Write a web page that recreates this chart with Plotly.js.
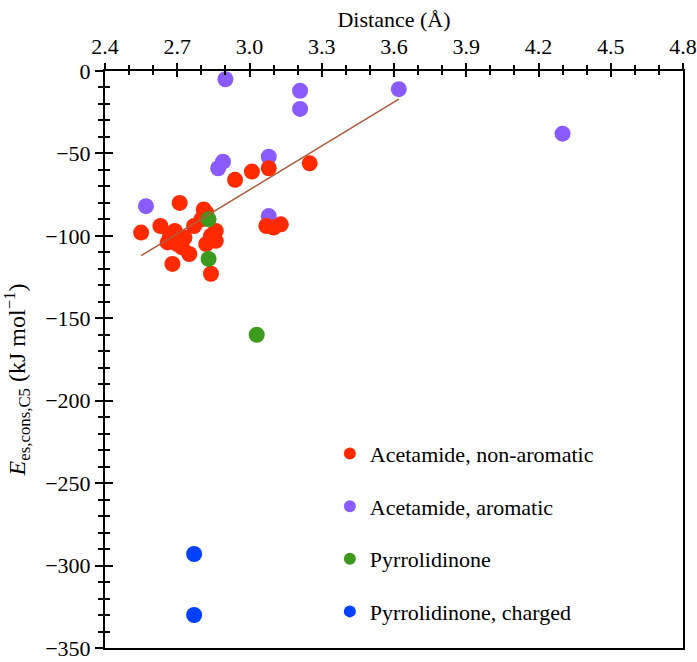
<!DOCTYPE html>
<html>
<head>
<meta charset="utf-8">
<script src="https://cdn.plot.ly/plotly-3.0.1.min.js"></script>
<style>html,body{margin:0;padding:0;background:#fff;}#chart{width:697px;height:662px;}</style>
</head>
<body>
<div id="chart"></div>
<script>
// Acetamide, non-aromatic
const nonAromX = [2.94, 3.01, 3.08, 3.25, 3.07, 3.10, 3.13, 2.71, 2.81, 2.55, 2.63, 2.67, 2.70, 2.75, 2.68, 2.77, 2.80, 2.84, 2.86, 2.82, 2.86, 2.84, 2.66, 2.72, 2.82, 2.73, 2.69];
const nonAromY = [-66, -61, -59, -56, -94, -95, -93, -80, -84, -98, -94, -100, -105, -111, -117, -94, -90, -100, -97, -105, -103, -123, -104, -107, -86, -101, -97];
// Acetamide, aromatic
const aromX = [2.90, 3.21, 3.21, 3.62, 4.30, 3.08, 2.89, 2.87, 2.57, 3.08];
const aromY = [-5, -12, -23, -11, -38, -52, -55, -59, -82, -88];
// Pyrrolidinone
const pyrX = [2.83, 2.83, 3.03];
const pyrY = [-90, -114, -160];
// Pyrrolidinone, charged
const pyrChX = [2.77, 2.77];
const pyrChY = [-293, -330];
// Linear fit endpoints
const fitX = [2.55, 3.62];
const fitY = [-112, -17];

const xTicks = [2.4, 2.7, 3.0, 3.3, 3.6, 3.9, 4.2, 4.5, 4.8];
const yTicks = [0, -50, -100, -150, -200, -250, -300, -350];

const serif = '"Liberation Serif", "Times New Roman", serif';
const msize = 16;
const fs = 22;

const traces = [
  {x: aromX, y: aromY, mode: 'markers', type: 'scatter', name: 'Acetamide, aromatic',
   legendgroup: 'g2', legendrank: 2, marker: {color: '#8a5cff', size: msize}},
  {x: nonAromX, y: nonAromY, mode: 'markers', type: 'scatter', name: 'Acetamide, non-aromatic',
   legendgroup: 'g1', legendrank: 1, marker: {color: '#ff2a00', size: msize}},
  {x: pyrX, y: pyrY, mode: 'markers', type: 'scatter', name: 'Pyrrolidinone',
   legendgroup: 'g3', legendrank: 3, marker: {color: '#3c9a1c', size: msize}},
  {x: pyrChX, y: pyrChY, mode: 'markers', type: 'scatter', name: 'Pyrrolidinone, charged',
   legendgroup: 'g4', legendrank: 4, marker: {color: '#0040ff', size: msize}},
  {x: fitX, y: fitY, mode: 'lines', type: 'scatter', showlegend: false,
   line: {color: '#b05a3c', width: 1.5}},
  {x: [], y: [], xaxis: 'x2', yaxis: 'y2', type: 'scatter', mode: 'markers', showlegend: false}
];

const layout = {
  width: 697, height: 662,
  margin: {l: 105, r: 14, t: 71, b: 14},
  paper_bgcolor: '#fff', plot_bgcolor: '#fff',
  font: {family: serif, size: fs, color: '#000'},
  showlegend: true,
  legend: {x: 0.389, y: 0.373, xanchor: 'left', yanchor: 'top',
           traceorder: 'grouped', tracegroupgap: 21, itemsizing: 'constant',
           font: {family: serif, size: fs, color: '#000'}, bgcolor: 'rgba(0,0,0,0)'},
  xaxis: {
    side: 'top', range: [2.4, 4.8], tickvals: xTicks, tickformat: '.1f',
    ticks: 'outside', ticklen: 6, tickwidth: 2, tickcolor: '#000',
    minor: {dtick: 0.1, tick0: 2.4, ticks: 'outside', ticklen: 4, tickwidth: 2, tickcolor: '#000', showgrid: false},
    showline: true, linewidth: 2, linecolor: '#000', mirror: true,
    showgrid: false, zeroline: false,
    tickfont: {family: serif, size: fs},
    title: {text: 'Distance (Å)', font: {family: serif, size: fs}, standoff: 1}
  },
  yaxis: {
    range: [-350, 0], tickvals: yTicks, ticklabeloverflow: 'allow',
    ticks: 'outside', ticklen: 8, tickwidth: 2, tickcolor: '#000',
    minor: {dtick: 10, tick0: 0, ticks: 'outside', ticklen: 5, tickwidth: 2, tickcolor: '#000', showgrid: false},
    showline: true, linewidth: 2, linecolor: '#000', mirror: true,
    showgrid: false, zeroline: false,
    tickfont: {family: serif, size: fs}
  },
  xaxis2: {
    overlaying: 'x', anchor: 'y', side: 'top', range: [2.4, 4.8], tickvals: xTicks,
    ticks: 'inside', ticklen: 6, tickwidth: 2, tickcolor: '#000', showticklabels: false,
    minor: {dtick: 0.1, tick0: 2.4, ticks: 'inside', ticklen: 4, tickwidth: 2, tickcolor: '#000', showgrid: false},
    showline: false, showgrid: false, zeroline: false
  },
  yaxis2: {
    overlaying: 'y', anchor: 'x', side: 'left', range: [-350, 0], tickvals: yTicks,
    ticks: 'inside', ticklen: 8, tickwidth: 2, tickcolor: '#000', showticklabels: false,
    minor: {dtick: 10, tick0: 0, ticks: 'inside', ticklen: 5, tickwidth: 2, tickcolor: '#000', showgrid: false},
    showline: false, showgrid: false, zeroline: false
  },
  annotations: [{
    text: '<i>E</i><sub>es,cons,C5</sub> (kJ mol<sup>−1</sup>)',
    xref: 'paper', yref: 'paper', x: -0.152, y: 0.464,
    xanchor: 'center', yanchor: 'middle', textangle: -90, showarrow: false,
    font: {family: serif, size: 24, color: '#000'}
  }]
};

Plotly.newPlot('chart', traces, layout, {displayModeBar: false, staticPlot: true});
</script>
</body>
</html>
